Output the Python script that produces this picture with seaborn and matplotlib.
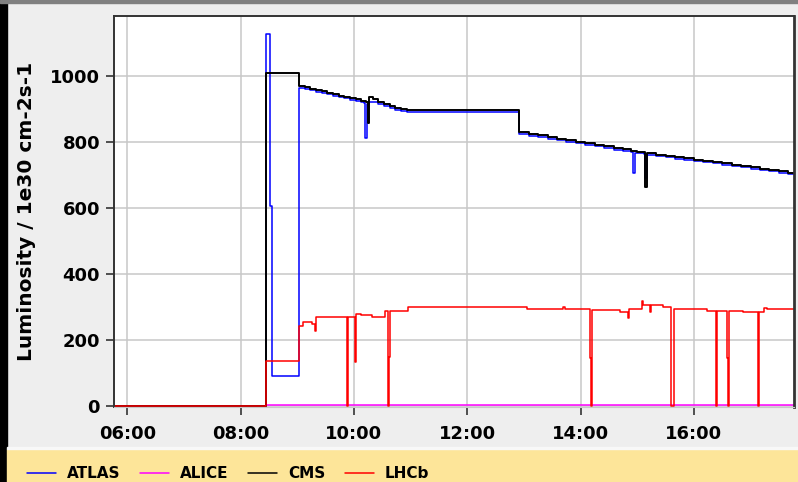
import pandas as pd
import seaborn as sns
import matplotlib
matplotlib.use('Agg')
from matplotlib import pyplot as plt, dates as mdates
from matplotlib.patches import Rectangle

DAY = '2010-06-01 '

# === DATA ===
atlas_t = ['05:40', '08:27', '08:31', '08:33', '09:02', '09:08', '09:14', '09:20',
           '09:26', '09:32', '09:38', '09:44', '09:50', '09:56', '10:02', '10:08',
           '10:11', '10:12', '10:14', '10:16', '10:20', '10:26', '10:32', '10:38',
           '10:44', '10:50', '10:56', '12:55', '13:05', '13:15', '13:25', '13:35',
           '13:45', '13:55', '14:05', '14:15', '14:25', '14:35', '14:45', '14:53',
           '14:56', '14:58', '15:07', '15:08', '15:10', '15:20', '15:30', '15:40',
           '15:50', '16:00', '16:10', '16:20', '16:30', '16:40', '16:50', '17:00',
           '17:10', '17:20', '17:30', '17:40', '17:50']
atlas_v = [0, 1127, 605, 90, 965, 961, 957, 953,
           949, 945, 941, 936, 932, 928, 924, 920,
           917, 811, 916, 922, 922, 916, 909, 903,
           898, 894, 892, 824, 819, 815, 810, 805,
           801, 796, 791, 787, 782, 777, 773, 769,
           707, 766, 764, 690, 761, 758, 754, 750,
           747, 743, 739, 735, 731, 727, 723, 719,
           715, 711, 707, 703, 700]

alice_t = ['05:40', '08:27', '17:50']
alice_v = [0, 3, 3]

cms_t = ['05:40', '08:27', '09:02', '09:08', '09:14', '09:20', '09:26', '09:32',
         '09:38', '09:44', '09:50', '09:56', '10:02', '10:08', '10:13', '10:15',
         '10:16', '10:20', '10:26', '10:32', '10:38', '10:44', '10:50', '10:56',
         '12:55', '13:05', '13:15', '13:25', '13:35', '13:45', '13:55', '14:05',
         '14:15', '14:25', '14:35', '14:45', '14:53', '15:00', '15:07', '15:08',
         '15:10', '15:20', '15:30', '15:40', '15:50', '16:00', '16:10', '16:20',
         '16:30', '16:40', '16:50', '17:00', '17:10', '17:20', '17:30', '17:40',
         '17:50']
cms_v = [0, 1008, 970, 966, 962, 958, 954, 950,
         946, 941, 937, 933, 929, 925, 921, 858,
         935, 929, 922, 915, 909, 904, 900, 897,
         829, 824, 820, 815, 810, 806, 801, 796,
         792, 787, 782, 778, 774, 771, 769, 665,
         766, 762, 758, 754, 751, 747, 743, 739,
         735, 731, 727, 723, 719, 715, 711, 707,
         704]

lhcb_t = ['05:40', '08:27', '09:02', '09:06', '09:16', '09:19', '09:20', '09:53',
          '09:54', '10:01', '10:02', '10:07', '10:19', '10:33', '10:36', '10:37',
          '10:38', '10:57', '13:03', '13:41', '13:44', '14:10', '14:11', '14:12',
          '14:42', '14:50', '14:51', '15:05', '15:06', '15:14', '15:15', '15:27',
          '15:36', '15:39', '16:14', '16:23', '16:24', '16:35', '16:36', '16:37',
          '16:52', '17:08', '17:09', '17:14', '17:17', '17:50']
lhcb_v = [0, 137, 243, 254, 250, 228, 271, 0,
          271, 132, 278, 276, 271, 288, 0, 149,
          288, 299, 293, 300, 293, 145, 0, 291,
          284, 268, 294, 318, 306, 286, 306, 299,
          0, 294, 288, 0, 288, 145, 0, 288,
          284, 0, 284, 296, 294, 294]

names = ['ATLAS', 'ALICE', 'CMS', 'LHCb']
colors = ['#0000ff', '#ff00ff', '#000000', '#ff0000']

frames = []
for name, tt, vv in zip(names, [atlas_t, alice_t, cms_t, lhcb_t],
                        [atlas_v, alice_v, cms_v, lhcb_v]):
    frames.append(pd.DataFrame({'time': pd.to_datetime([DAY + t for t in tt]),
                                'lumi': vv, 'exp': name}))
data = pd.concat(frames, ignore_index=True)

# === PLOT ===
sns.set_style('white')
plt.rcParams['font.family'] = ['DejaVu Sans']
plt.rcParams['font.weight'] = 'bold'
for key in ['text.color', 'axes.labelcolor', 'xtick.labelcolor', 'ytick.labelcolor']:
    plt.rcParams[key] = 'black'

fig = plt.figure(figsize=(7.98, 4.82), dpi=100, facecolor='#eeeeee')
ax = fig.add_axes([114 / 798, 1 - 407 / 482, 680 / 798, 391 / 482])
ax.set_facecolor('white')

# window decorations
fig.patches.append(Rectangle((0, 0), 7 / 798, 1, transform=fig.transFigure,
                             color='black', zorder=-1))
fig.patches.append(Rectangle((0, 1 - 3 / 482), 1, 3 / 482, transform=fig.transFigure,
                             color='#808080', zorder=-1))
fig.patches.append(Rectangle((7 / 798, 0), 1, 33 / 482, transform=fig.transFigure,
                             color='#fde599', zorder=-1))
fig.patches.append(Rectangle((7 / 798, 33 / 482), 1, 2 / 482, transform=fig.transFigure,
                             color='#f8f8f8', zorder=-1))

sns.lineplot(data=data, x='time', y='lumi', hue='exp', hue_order=names,
             palette=dict(zip(names, colors)), estimator=None, sort=False,
             drawstyle='steps-post', lw=1.1, ax=ax)
ax.lines[2].set_linewidth(1.4)

ax.set_xlim(pd.Timestamp(DAY + '05:46'), pd.Timestamp(DAY + '17:46'))
ax.set_ylim(-3, 1182)
ax.set_yticks([0, 200, 400, 600, 800, 1000])
ax.xaxis.set_major_locator(mdates.HourLocator(byhour=range(0, 24, 2)))
ax.xaxis.set_major_formatter(mdates.DateFormatter('%H:%M'))

ax.grid(True, color='#c8c8c8', lw=1.1)
ax.set_axisbelow(True)
ax.tick_params(direction='out', length=6, width=1.2, color='#333333',
               labelsize=13, bottom=True, left=True)
ax.tick_params(axis='x', pad=7)
ax.tick_params(axis='y', pad=4)
for lab in ax.get_xticklabels() + ax.get_yticklabels():
    lab.set_fontweight('bold')
for side in ['left', 'top', 'right']:
    ax.spines[side].set_color('#333333')
    ax.spines[side].set_linewidth(1.4)
ax.spines['right'].set_linewidth(2)
ax.spines['bottom'].set_color('#c8c8c8')

ax.set_xlabel('')
ax.set_ylabel('Luminosity / 1e30 cm-2s-1', fontsize=14.5, fontweight='bold',
              labelpad=10)

handles, labels = ax.get_legend_handles_labels()
ax.get_legend().remove()
fig.legend(handles, labels, loc='center left', bbox_to_anchor=(27 / 798, 8 / 482),
           ncol=4, frameon=False, borderpad=0, borderaxespad=0,
           handlelength=1.9, handletextpad=0.7, columnspacing=1.3,
           prop={'size': 11, 'weight': 'bold'})

plt.savefig('out.png', dpi=100, facecolor=fig.get_facecolor())
